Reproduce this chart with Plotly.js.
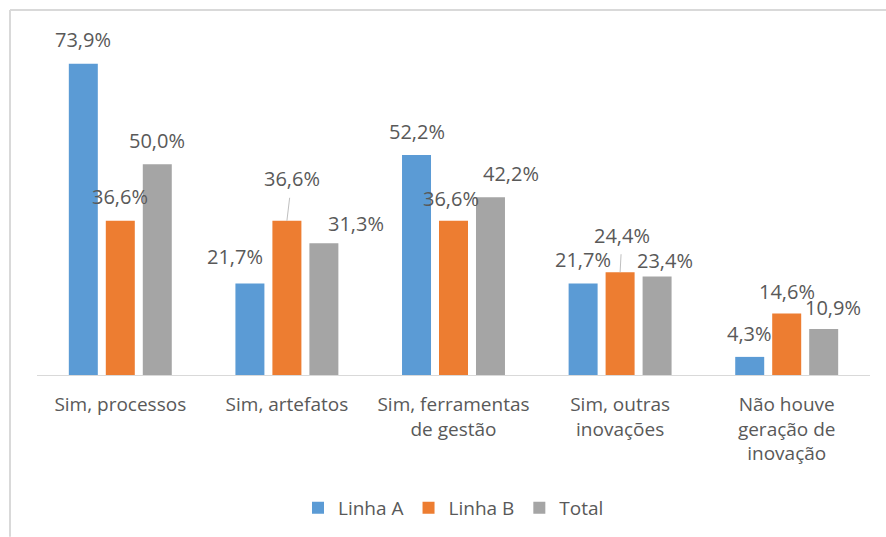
<!DOCTYPE html>
<html>
<head>
<meta charset="utf-8">
<script src="https://cdn.plot.ly/plotly-3.0.1.min.js"></script>
<style>
  html, body { margin: 0; padding: 0; background: #ffffff; }
  #chart { width: 886px; height: 537px; }
</style>
</head>
<body>
<div id="chart"></div>
<script>
// ---- data ----
const categories = [
  "Sim, processos",
  "Sim, artefatos",
  "Sim, ferramentas<br>de gestão",
  "Sim, outras<br>inovações",
  "Não houve<br>geração de<br>inovação"
];
const seriesNames = ["Linha A", "Linha B", "Total"];
const linhaA = [73.9, 21.7, 52.2, 21.7, 4.3];
const linhaB = [36.6, 36.6, 36.6, 24.4, 14.6];
const total  = [50.0, 31.3, 42.2, 23.4, 10.9];

// ---- styling / label placement (pixels) ----
const colors = ["#5B9BD5", "#ED7D31", "#A5A5A5"];
const textColor = "#595959";
const seriesShift = [-37, 0, 37];
// per series, per category: [dx, gap above bar top, arrow]
const labelPlacement = [
  [[0, 24], [-15, 27], [0, 24], [0, 24], [0, 23]],
  [[0, 24], [5, 42, true], [-3, 22], [2, 37, true], [0, 22]],
  [[0, 24], [32, 20], [20, 24], [8, 16], [9, 22]]
];

const allSeries = [linhaA, linhaB, total];
const fmt = v => v.toFixed(1).replace(".", ",") + "%";

const traces = allSeries.map((vals, s) => ({
  type: "bar",
  name: seriesNames[s],
  x: categories,
  y: vals,
  marker: { color: colors[s] },
  hoverinfo: "skip"
}));

const annotations = [];
allSeries.forEach((vals, s) => {
  vals.forEach((v, i) => {
    const p = labelPlacement[s][i];
    if (p[2]) {
      annotations.push({
        x: categories[i], y: v, xref: "x", yref: "y",
        xshift: seriesShift[s],
        text: fmt(v),
        showarrow: true, arrowhead: 0, arrowwidth: 1, arrowcolor: "#BFBFBF",
        ax: p[0], ay: -p[1], standoff: 0, startstandoff: 4,
        font: { family: "Open Sans", size: 20, color: textColor }
      });
    } else {
      annotations.push({
        x: categories[i], y: v, xref: "x", yref: "y",
        xshift: seriesShift[s] + p[0], yshift: p[1],
        xanchor: "center", yanchor: "middle",
        text: fmt(v), showarrow: false,
        font: { family: "Open Sans", size: 20, color: textColor }
      });
    }
  });
});

const frameColor = "#D9D9D9";
const layout = {
  width: 886, height: 537,
  margin: { l: 37, r: 16, t: 38, b: 161 },
  paper_bgcolor: "#ffffff",
  plot_bgcolor: "#ffffff",
  barmode: "group",
  bargap: 0.334,
  bargroupgap: 0.216,
  font: { family: "Open Sans", size: 20, color: textColor },
  xaxis: {
    type: "category",
    showline: true, linecolor: "#D9D9D9", linewidth: 1,
    ticks: "", showgrid: false, zeroline: false,
    ticklabelstandoff: 12,
    tickfont: { family: "Open Sans", size: 19, color: textColor }
  },
  yaxis: {
    range: [0, 80], visible: false, showgrid: false, zeroline: false
  },
  showlegend: true,
  legend: {
    orientation: "h",
    x: 0.5, xanchor: "center",
    y: -0.39, yanchor: "middle",
    font: { family: "Open Sans", size: 19, color: textColor }
  },
  annotations: annotations,
  shapes: [
    { type: "line", xref: "paper", yref: "paper",
      x0: -0.0324, x1: -0.0324, y0: -0.48, y1: 1.0828,
      line: { color: frameColor, width: 2 } },
    { type: "line", xref: "paper", yref: "paper",
      x0: -0.0324, x1: 1.03, y0: 1.0828, y1: 1.0828,
      line: { color: frameColor, width: 2 } }
  ]
};

Plotly.newPlot("chart", traces, layout, { displayModeBar: false, staticPlot: true });
</script>
</body>
</html>
